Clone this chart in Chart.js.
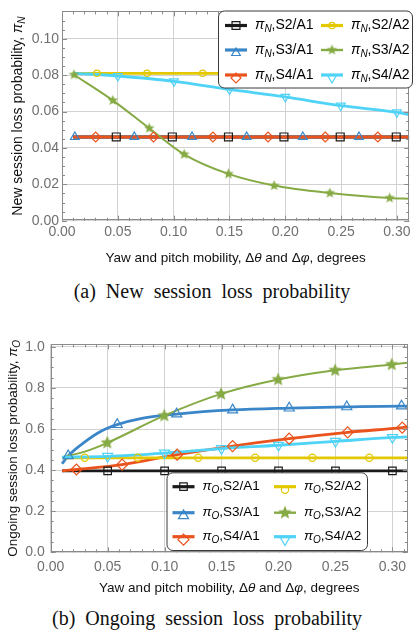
<!DOCTYPE html>
<html>
<head>
<meta charset="utf-8">
<script src="https://cdn.jsdelivr.net/npm/chart.js@4.4.1/dist/chart.umd.min.js"></script>
<style>
  body { margin: 0; background: #fff; width: 416px; height: 635px; position: relative; overflow: hidden; }
  canvas { position: absolute; left: 0; }
  .cap { position: absolute; width: 416px; text-align: center; font-family: "Liberation Serif", "Times New Roman", serif;
         font-size: 20px; line-height: 20px; word-spacing: 5px; color: #111; }
</style>
</head>
<body>
<canvas id="chartN" width="416" height="270" style="top:0"></canvas>
<div class="cap" style="top:281px;left:4px">(a) New session loss probability</div>
<canvas id="chartO" width="416" height="270" style="top:330px"></canvas>
<div class="cap" style="top:608px;left:-1px">(b) Ongoing session loss probability</div>
<script>
const SANS = '"Liberation Sans", Arial, sans-serif';

// legend order (row by row): S2/A1, S2/A2, S3/A1, S3/A2, S4/A1, S4/A2
const seriesNames = ['S2/A1', 'S2/A2', 'S3/A1', 'S3/A2', 'S4/A1', 'S4/A2'];

// tick labels
const xTickValues = [0, 0.05, 0.10, 0.15, 0.20, 0.25, 0.30];
const nYTickValues = [0, 0.02, 0.04, 0.06, 0.08, 0.10];
const oYTickValues = [0, 0.2, 0.4, 0.6, 0.8, 1.0];

// (a) new session loss probability pi_N -- marker points and the other points of each curve
const nS2A1Marks = [[0.0486, 0.046], [0.0988, 0.046], [0.1491, 0.046], [0.1988, 0.046], [0.2492, 0.046], [0.2994, 0.046]];
const nS2A1Path = [[0.01, 0.046], [0.311, 0.046]];
const nS2A2Marks = [[0.0313, 0.081], [0.0761, 0.081], [0.126, 0.081], [0.175, 0.081], [0.224, 0.081], [0.273, 0.081]];
const nS2A2Path = [[0.01, 0.081], [0.311, 0.081]];
const nS3A1Marks = [[0.0115, 0.046], [0.0648, 0.046], [0.1165, 0.046], [0.1654, 0.046], [0.2157, 0.046], [0.266, 0.046]];
const nS3A1Path = [[0.01, 0.046], [0.311, 0.046]];
const nS3A2Marks = [[0.0107, 0.0802], [0.0455, 0.0661], [0.0781, 0.0508], [0.1094, 0.0365], [0.1491, 0.0257],
                    [0.19, 0.0193], [0.2399, 0.0152], [0.2935, 0.0125]];
const nS3A2Path = [[0.311, 0.0121]];
const nS4A1Marks = [[0.0302, 0.046], [0.0819, 0.046], [0.1352, 0.046], [0.1846, 0.046], [0.2358, 0.046], [0.2829, 0.046]];
const nS4A1Path = [[0.01, 0.046], [0.311, 0.046]];
const nS4A2Marks = [[0.05, 0.0795], [0.1003, 0.0766], [0.15, 0.0721], [0.20, 0.0680], [0.2497, 0.0632], [0.30, 0.0595]];
const nS4A2Path = [[0.01, 0.0811], [0.311, 0.0582]];

// (b) ongoing session loss probability pi_O
const oS2A1Marks = [[0.05, 0.396], [0.10, 0.396], [0.15, 0.396], [0.20, 0.396], [0.25, 0.396], [0.30, 0.396]];
const oS2A1Path = [[0.01, 0.396], [0.3135, 0.396]];
const oS2A2Marks = [[0.0299, 0.46], [0.0764, 0.46], [0.1295, 0.46], [0.1795, 0.46], [0.2297, 0.46], [0.2797, 0.46]];
const oS2A2Path = [[0.01, 0.46], [0.3135, 0.46]];
const oS3A1Marks = [[0.0154, 0.47], [0.0584, 0.6215], [0.1106, 0.673], [0.1597, 0.693], [0.2094, 0.702],
                    [0.2599, 0.708], [0.308, 0.712]];
const oS3A1Path = [[0.01, 0.431], [0.03, 0.538], [0.045, 0.592], [0.08, 0.652], [0.3135, 0.712]];
const oS3A2Marks = [[0.0497, 0.533], [0.0997, 0.665], [0.1496, 0.771], [0.1997, 0.841], [0.2497, 0.886], [0.2994, 0.914]];
const oS3A2Path = [[0.01, 0.4626], [0.03, 0.49], [0.3135, 0.923]];
const oS4A1Marks = [[0.0226, 0.403], [0.0627, 0.4267], [0.111, 0.475], [0.1597, 0.517], [0.2093, 0.553],
                    [0.2607, 0.584], [0.3086, 0.607]];
const oS4A1Path = [[0.01, 0.396], [0.3135, 0.61]];
const oS4A2Marks = [[0.05, 0.467], [0.10, 0.483], [0.15, 0.505], [0.20, 0.521], [0.25, 0.540], [0.30, 0.559]];
const oS4A2Path = [[0.01, 0.463], [0.3135, 0.562]];

// look of each series, same order as seriesNames
const seriesColors = ['#1a1a1a', '#e3c800', '#3a86c8', '#86aa44', '#ea531c', '#4fd3f6'];
const lineWidths = [2.8, 2.8, 2.8, 2, 2.8, 2.8];
const markerShapes = ['rect', 'circle', 'triangle', 'star', 'rectRot', 'triangle'];
const markerTurns = [0, 0, 0, 0, 0, 180];
const drawRank = [0, 3, 1, 4, 2, 5]; // later ranks drawn on top

function starImage(r, color) {
  const c = document.createElement('canvas');
  const s = Math.ceil(2 * r + 2);
  c.width = s; c.height = s;
  const g = c.getContext('2d');
  g.fillStyle = color;
  g.beginPath();
  for (let k = 0; k < 10; k++) {
    const rr = k % 2 ? r * 0.45 : r;
    const ang = -Math.PI / 2 + k * Math.PI / 5;
    g.lineTo(s / 2 + rr * Math.cos(ang), s / 2 + rr * Math.sin(ang));
  }
  g.closePath();
  g.fill();
  return c;
}

// text made of pieces: [text, font, dy]
function drawRich(ctx, parts, x, y, align) {
  let w = 0;
  parts.forEach(p => { ctx.font = p[1]; w += ctx.measureText(p[0]).width; });
  let cx = align === 'center' ? x - w / 2 : x;
  parts.forEach(p => {
    ctx.font = p[1];
    ctx.fillText(p[0], cx, y + (p[2] || 0));
    cx += ctx.measureText(p[0]).width;
  });
}

function roundBox(ctx, x, y, w, h, r) {
  ctx.beginPath();
  ctx.moveTo(x + r, y);
  ctx.arcTo(x + w, y, x + w, y + h, r);
  ctx.arcTo(x + w, y + h, x, y + h, r);
  ctx.arcTo(x, y + h, x, y, r);
  ctx.arcTo(x, y, x + w, y, r);
  ctx.closePath();
}

// frame round the plot with minor/major ticks pointing inwards
const frameTicks = {
  id: 'frameTicks',
  afterDatasetsDraw(chart, args, o) {
    const {ctx, chartArea: a} = chart;
    const xs = chart.scales.x, ys = chart.scales.y;
    ctx.save();
    ctx.strokeStyle = '#8a8a8a';
    ctx.lineWidth = 1;
    ctx.beginPath();
    for (let k = 0; k * o.xMinor <= xs.max + 1e-9; k++) {
      const px = Math.round(xs.getPixelForValue(k * o.xMinor)) + 0.5;
      const len = k % o.xEvery === 0 ? 5 : 3;
      ctx.moveTo(px, a.bottom); ctx.lineTo(px, a.bottom - len);
      ctx.moveTo(px, a.top); ctx.lineTo(px, a.top + len);
    }
    for (let k = 0; k * o.yMinor <= ys.max + 1e-9; k++) {
      const py = Math.round(ys.getPixelForValue(k * o.yMinor)) + 0.5;
      const len = k % o.yEvery === 0 ? 5 : 3;
      ctx.moveTo(a.left, py); ctx.lineTo(a.left + len, py);
      ctx.moveTo(a.right, py); ctx.lineTo(a.right - len, py);
    }
    ctx.stroke();
    ctx.strokeRect(Math.round(a.left) + 0.5, Math.round(a.top) + 0.5, Math.round(a.width) - 1, Math.round(a.height) - 1);
    ctx.restore();
  }
};

// axis titles (with the subscript) and the boxed legend inside the plot
const titlesAndLegend = {
  id: 'titlesAndLegend',
  afterDraw(chart, args, o) {
    const {ctx, chartArea: a} = chart;
    ctx.save();
    ctx.fillStyle = '#111';
    ctx.textBaseline = 'middle';
    ctx.translate(o.yTitleX, (a.top + a.bottom) / 2);
    ctx.rotate(-Math.PI / 2);
    drawRich(ctx, [[o.yTitle, o.titleSize + 'px ' + SANS], ['π', 'italic ' + o.titleSize + 'px ' + SANS],
                   [o.sub, 'italic 10px ' + SANS, 4]], 0, 0, 'center');
    ctx.restore();

    ctx.save();
    ctx.fillStyle = '#111';
    ctx.textBaseline = 'middle';
    const f = '13.5px ' + SANS, fi = 'italic 13.5px ' + SANS;
    drawRich(ctx, [['Yaw and pitch mobility, Δ', f], ['θ', fi], [' and Δ', f], ['φ', fi], [', degrees', f]],
             (a.left + a.right) / 2, o.xTitleY, 'center');

    const L = o.legend;
    roundBox(ctx, L.left + 0.5, L.top + 0.5, L.width, L.height, 6);
    ctx.fillStyle = '#fff';
    ctx.fill();
    ctx.strokeStyle = '#3a3a3a';
    ctx.lineWidth = 1;
    ctx.stroke();
    seriesNames.forEach((name, i) => {
      const x = L.left + L.colX[i % 2], y = L.top + L.rowY[Math.floor(i / 2)];
      ctx.strokeStyle = seriesColors[i];
      ctx.lineWidth = lineWidths[i] + 0.4;
      ctx.beginPath(); ctx.moveTo(x, y); ctx.lineTo(x + 22, y); ctx.stroke();
      ctx.lineWidth = 1.2;
      ctx.fillStyle = 'rgba(0,0,0,0)';
      Chart.helpers.drawPoint(ctx, {
        pointStyle: o.shapes[i], rotation: markerTurns[i], radius: o.sizes[i], borderWidth: 1.2
      }, x + 11, y + o.markDrop[i]);
      ctx.fillStyle = '#000';
      drawRich(ctx, [['π', 'italic ' + L.font + 'px ' + SANS], [o.sub, 'italic 10px ' + SANS, 4],
                     [',' + name, L.font + 'px ' + SANS]], x + 30, y, 'left');
    });
    ctx.restore();
  }
};

function makeChart(id, c) {
  const canvas = document.getElementById(id);
  const shapes = markerShapes.map((s, i) => s === 'star' ? starImage(c.sizes[i], seriesColors[i]) : s);
  const datasets = [];
  seriesNames.forEach((name, i) => {
    datasets.push({
      label: 'π' + c.sub + ',' + name,
      data: [...c.paths[i], ...c.marks[i]].sort((p, q) => p[0] - q[0]),
      borderColor: seriesColors[i],
      borderWidth: lineWidths[i],
      cubicInterpolationMode: 'monotone',
      pointRadius: 0,
      fill: false,
      order: 20 - drawRank[i]
    });
  });
  seriesNames.forEach((name, i) => {
    datasets.push({
      label: name + ' markers',
      data: c.marks[i],
      showLine: false,
      pointStyle: shapes[i],
      pointRotation: markerTurns[i],
      pointRadius: c.sizes[i],
      pointBorderWidth: 1.2,
      pointBorderColor: seriesColors[i],
      pointBackgroundColor: 'rgba(0,0,0,0)',
      clip: false,
      order: 10 - drawRank[i]
    });
  });

  return new Chart(canvas, {
    type: 'line',
    data: {datasets: datasets},
    options: {
      responsive: false,
      animation: false,
      events: [],
      layout: {padding: {top: c.area.top, right: 416 - c.area.right, left: 0, bottom: 0}},
      scales: {
        x: {
          type: 'linear', min: 0, max: c.xMax,
          afterBuildTicks: s => { s.ticks = xTickValues.map(v => ({value: v})); },
          afterFit: s => { s.height = canvas.height - c.area.bottom; },
          ticks: {callback: v => v.toFixed(2), color: '#707070', font: {family: SANS, size: 14}, padding: c.pad.x, maxRotation: 0},
          grid: {color: '#d2d2d2', lineWidth: 1, drawTicks: false},
          border: {display: false}
        },
        y: {
          type: 'linear', min: 0, max: c.yMax,
          afterBuildTicks: s => { s.ticks = c.yTicks.map(v => ({value: v})); },
          afterFit: s => { s.width = c.area.left; },
          ticks: {callback: v => v.toFixed(c.yDigits), color: '#707070', font: {family: SANS, size: 14}, padding: c.pad.y},
          grid: {color: '#d2d2d2', lineWidth: 1, drawTicks: false},
          border: {display: false}
        }
      },
      plugins: {
        legend: {display: false},
        tooltip: {enabled: false},
        frameTicks: {xMinor: 0.01, xEvery: 5, yMinor: c.yMinor, yEvery: c.yEvery},
        titlesAndLegend: {
          yTitle: c.yTitle, sub: c.sub, titleSize: c.titleSize, yTitleX: c.yTitleX, xTitleY: 258,
          shapes: shapes, sizes: c.sizes, markDrop: c.markDrop, legend: c.legend
        }
      }
    },
    plugins: [frameTicks, titlesAndLegend]
  });
}

makeChart('chartN', {
  sub: 'N',
  marks: [nS2A1Marks, nS2A2Marks, nS3A1Marks, nS3A2Marks, nS4A1Marks, nS4A2Marks],
  paths: [nS2A1Path, nS2A2Path, nS3A1Path, nS3A2Path, nS4A1Path, nS4A2Path],
  xMax: 0.311, yMax: 0.115, yTicks: nYTickValues, yDigits: 2, yMinor: 0.005, yEvery: 4,
  area: {left: 62, top: 8, right: 412.7, bottom: 220.7},
  pad: {x: 3, y: 3},
  sizes: [5.6, 3.2, 5, 5.5, 5, 5],
  markDrop: [0, 0, 3, 0, 3, 3],
  yTitle: 'New session loss probability, ', titleSize: 14, yTitleX: 18,
  legend: {left: 218, top: 10.5, width: 194, height: 77, colX: [7, 103], rowY: [15, 39.5, 64.5], font: 14}
});

makeChart('chartO', {
  sub: 'O',
  marks: [oS2A1Marks, oS2A2Marks, oS3A1Marks, oS3A2Marks, oS4A1Marks, oS4A2Marks],
  paths: [oS2A1Path, oS2A2Path, oS3A1Path, oS3A2Path, oS4A1Path, oS4A2Path],
  xMax: 0.3135, yMax: 1.012, yTicks: oYTickValues, yDigits: 1, yMinor: 0.05, yEvery: 4,
  area: {left: 50.7, top: 6, right: 411.5, bottom: 222.3},
  pad: {x: 6.5, y: 6},
  sizes: [5.3, 3.6, 5.8, 7, 5.5, 5.8],
  markDrop: [0, 3, 3, 0, 3, 3],
  yTitle: 'Ongoing session loss probability, ', titleSize: 13.5, yTitleX: 13,
  legend: {left: 166.5, top: 142.3, width: 200.5, height: 77.7, colX: [6, 107.5], rowY: [14.4, 40.4, 64.4], font: 13.5}
});
</script>
</body>
</html>
